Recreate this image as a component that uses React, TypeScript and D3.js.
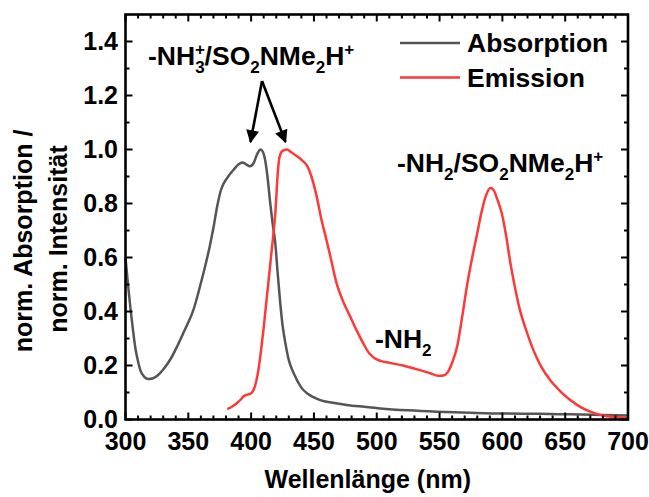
import React from "react";
import * as d3 from "d3";

const absWl = [300, 302, 304, 306, 308, 310, 312, 315, 318, 322, 326, 330, 336, 341, 346, 350, 354, 358, 363, 367, 370, 373, 376, 381, 386, 390, 393, 396, 399, 402, 405, 407.5, 409.5, 411, 413, 415, 417, 419.3, 421, 423, 425, 427, 430, 434, 440, 445, 450, 455, 465, 476, 490, 503, 525, 548, 575, 601, 630, 654, 680, 700];
const absVal = [0.6, 0.5, 0.41, 0.33, 0.26, 0.215, 0.18, 0.158, 0.15, 0.153, 0.165, 0.185, 0.225, 0.27, 0.32, 0.36, 0.405, 0.47, 0.56, 0.64, 0.71, 0.79, 0.85, 0.895, 0.925, 0.945, 0.952, 0.945, 0.938, 0.95, 0.985, 1.0, 0.99, 0.965, 0.9, 0.81, 0.73, 0.65, 0.55, 0.44, 0.35, 0.29, 0.22, 0.17, 0.118, 0.095, 0.082, 0.072, 0.062, 0.054, 0.047, 0.041, 0.034, 0.029, 0.025, 0.022, 0.021, 0.019, 0.017, 0.015];

const emWl = [381, 385, 389, 392, 394, 397, 400, 402, 404, 406, 408, 410, 412, 414, 416, 418, 419.5, 421, 422.5, 425, 428.5, 432, 436.5, 441, 444.5, 448, 452, 456, 460, 464, 468, 473, 479, 484, 489.5, 494, 498, 503, 510, 521, 529, 535, 542, 549, 553, 556, 560, 564, 568, 572, 576, 580, 584, 587, 590.5, 593, 596, 599.5, 603, 606, 610, 614, 619, 624.7, 631, 638, 646, 654, 662, 670, 678, 686, 693, 700];
const emVal = [0.038, 0.048, 0.062, 0.075, 0.086, 0.092, 0.097, 0.11, 0.14, 0.19, 0.26, 0.34, 0.43, 0.52, 0.61, 0.7, 0.78, 0.9, 0.97, 0.995, 1.0, 0.99, 0.975, 0.958, 0.94, 0.9, 0.83, 0.74, 0.665, 0.585, 0.505, 0.44, 0.38, 0.33, 0.28, 0.245, 0.228, 0.217, 0.21, 0.2, 0.19, 0.182, 0.172, 0.162, 0.163, 0.172, 0.21, 0.27, 0.38, 0.5, 0.6, 0.69, 0.78, 0.83, 0.857, 0.85, 0.815, 0.764, 0.68, 0.59, 0.49, 0.405, 0.33, 0.257, 0.195, 0.146, 0.105, 0.072, 0.047, 0.029, 0.017, 0.01, 0.008, 0.007];

const xTicks = [300, 350, 400, 450, 500, 550, 600, 650, 700];
const yTicks = [0, 0.2, 0.4, 0.6, 0.8, 1.0, 1.2, 1.4];
const seriesNames = ["Absorption", "Emission"];
const colors = ["#555555", "#ff3838"];

const W = 649, H = 497;
const L = 125.5, R = 628, T = 14.5, B = 419.5;
const FONT = "'Liberation Sans', Arial, sans-serif";

export default function App() {
  const x = d3.scaleLinear().domain([300, 700]).range([L, R]);
  const y = d3.scaleLinear().domain([0, 1.5]).range([B, T]);
  const line = d3.line<[number, number]>().x(d => x(d[0])).y(d => y(d[1])).curve(d3.curveMonotoneX);
  const absPts = absWl.map((w, i) => [w, absVal[i]] as [number, number]);
  const emPts = emWl.map((w, i) => [w, emVal[i]] as [number, number]);
  const xMinor = d3.range(300, 701, 10).filter(v => v % 50 !== 0);
  const yMinor = d3.range(1, 15, 2).map(v => v / 10);
  const maj = 7, mnr = 4;
  const fs = 25;
  const afs = 26.5;
  const sfs = 17;
  return (
    <svg width={W} height={H} style={{ position: "absolute", left: 0, top: 0, background: "#fff" }} fontFamily={FONT} fontWeight="bold">
      <defs>
        <marker id="ah" viewBox="0 0 10 10" refX="9" refY="5" markerWidth="6" markerHeight="5" orient="auto" markerUnits="strokeWidth">
          <path d="M0,0 L10,5 L0,10 Z" fill="#000" />
        </marker>
      </defs>
      <rect x={0} y={0} width={W} height={H} fill="#fff" />
      <path d={line(absPts) || ""} fill="none" stroke={colors[0]} strokeWidth={2.5} />
      <path d={line(emPts) || ""} fill="none" stroke={colors[1]} strokeWidth={2.5} />
      <g stroke="#000" strokeWidth={2}>
        {xTicks.map(v => (
          <g key={"xt" + v}>
            <line x1={x(v)} x2={x(v)} y1={B} y2={B - maj} />
            <line x1={x(v)} x2={x(v)} y1={T} y2={T + maj} />
          </g>
        ))}
        {xMinor.map(v => (
          <g key={"xm" + v}>
            <line x1={x(v)} x2={x(v)} y1={B} y2={B - mnr} />
            <line x1={x(v)} x2={x(v)} y1={T} y2={T + mnr} />
          </g>
        ))}
        {yTicks.map(v => (
          <g key={"yt" + v}>
            <line x1={L} x2={L + maj} y1={y(v)} y2={y(v)} />
            <line x1={R} x2={R - maj} y1={y(v)} y2={y(v)} />
          </g>
        ))}
        {yMinor.map(v => (
          <g key={"ym" + v}>
            <line x1={L} x2={L + mnr} y1={y(v)} y2={y(v)} />
            <line x1={R} x2={R - mnr} y1={y(v)} y2={y(v)} />
          </g>
        ))}
      </g>
      <rect x={L} y={T} width={R - L} height={B - T} fill="none" stroke="#000" strokeWidth={2.6} />
      {xTicks.map(v => (
        <text key={"xl" + v} x={x(v)} y={449.5} textAnchor="middle" fontSize={fs}>{v}</text>
      ))}
      {yTicks.map(v => (
        <text key={"yl" + v} x={118} y={y(v) + 8.5} textAnchor="end" fontSize={fs}>{v.toFixed(1)}</text>
      ))}
      <text x={(L + R) / 2 - 9} y={488} textAnchor="middle" fontSize={fs}>Wellenlänge (nm)</text>
      <text transform="translate(32,241) rotate(-90)" textAnchor="middle" fontSize={fs}>norm. Absorption /</text>
      <text transform="translate(67,239) rotate(-90)" textAnchor="middle" fontSize={fs}>norm. Intensität</text>
      {seriesNames.map((n, i) => (
        <g key={n}>
          <line x1={400} x2={460} y1={43 + i * 34.5} y2={43 + i * 34.5} stroke={colors[i]} strokeWidth={2.5} />
          <text x={467} y={52 + i * 34.5} fontSize={afs}>{n}</text>
        </g>
      ))}
      <text x={148} y={65} fontSize={afs}>
        -NH<tspan fontSize={sfs} dy={-10}>+</tspan>
        <tspan fontSize={sfs} dx={-9.9} dy={18}>3</tspan>
        <tspan dy={-8}>/SO</tspan>
        <tspan fontSize={sfs} dy={8}>2</tspan>
        <tspan dy={-8}>NMe</tspan>
        <tspan fontSize={sfs} dy={8}>2</tspan>
        <tspan dy={-8}>H</tspan>
        <tspan fontSize={sfs} dy={-10}>+</tspan>
      </text>
      <text x={397} y={172} fontSize={afs}>
        -NH<tspan fontSize={sfs} dy={8}>2</tspan>
        <tspan dy={-8}>/SO</tspan>
        <tspan fontSize={sfs} dy={8}>2</tspan>
        <tspan dy={-8}>NMe</tspan>
        <tspan fontSize={sfs} dy={8}>2</tspan>
        <tspan dy={-8}>H</tspan>
        <tspan fontSize={sfs} dy={-10}>+</tspan>
      </text>
      <text x={375} y={348} fontSize={afs}>
        -NH<tspan fontSize={sfs} dy={8}>2</tspan>
      </text>
      <line x1={262} y1={81} x2={250.5} y2={142} stroke="#000" strokeWidth={2.6} markerEnd="url(#ah)" />
      <line x1={262} y1={81} x2={285.5} y2={142} stroke="#000" strokeWidth={2.6} markerEnd="url(#ah)" />
    </svg>
  );
}
